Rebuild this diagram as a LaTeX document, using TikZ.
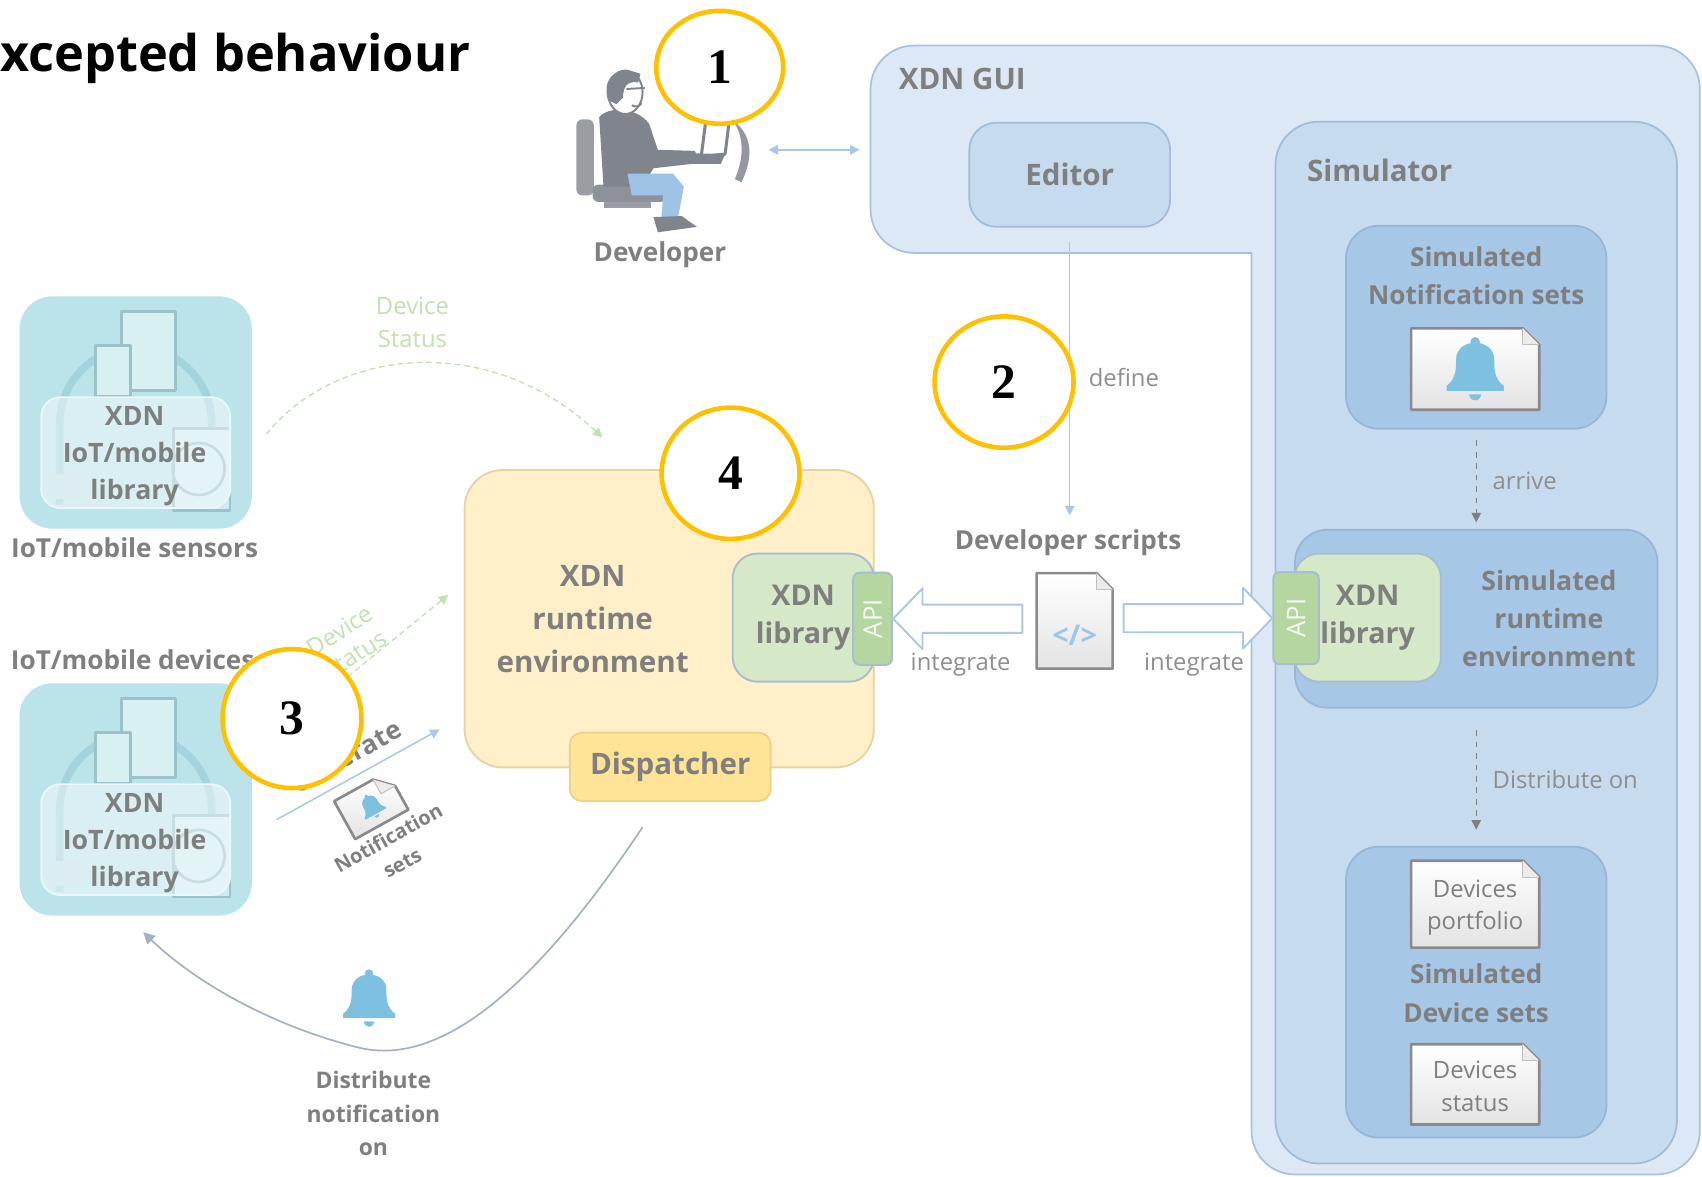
\documentclass[tikz,border=0pt]{standalone}
\usepackage{fontspec}
\setmainfont{Open Sans}
\newfontfamily\markfont{Liberation Serif}
\usetikzlibrary{arrows.meta,positioning,calc,shapes.geometric}
\definecolor{inkgray}{HTML}{7F7F7F}
\definecolor{softgray}{HTML}{8E8E8E}
\definecolor{guifill}{HTML}{DCE8F5}
\definecolor{guiedge}{HTML}{A8C1DC}
\definecolor{simfill}{HTML}{C7DBEF}
\definecolor{simedge}{HTML}{A0BBD7}
\definecolor{setfill}{HTML}{A7C7E7}
\definecolor{setedge}{HTML}{97B6D6}
\definecolor{libfill}{HTML}{D5E8C7}
\definecolor{libedge}{HTML}{A7BECF}
\definecolor{apifill}{HTML}{B6D6A1}
\definecolor{envfill}{HTML}{FFF0CA}
\definecolor{envedge}{HTML}{E6D4A2}
\definecolor{dispfill}{HTML}{FFE498}
\definecolor{dispedge}{HTML}{EBD38C}
\definecolor{tilefill}{HTML}{BAE3EA}
\definecolor{tileline}{HTML}{A3D3DC}
\definecolor{markyellow}{HTML}{FFC000}
\definecolor{linkblue}{HTML}{A9C8E8}
\definecolor{flowgray}{HTML}{A3B2C3}
\definecolor{statgreen}{HTML}{C4DFB2}
\definecolor{bellblue}{HTML}{7DC0E0}
\definecolor{codeblue}{HTML}{9CC5EA}
\definecolor{pageedge}{HTML}{8A8A8A}
\definecolor{persongray}{HTML}{80858D}
\definecolor{legblue}{HTML}{9DC3E6}

\begin{document}
\begin{tikzpicture}[x=0.02cm, y=-0.02cm, line join=round,
  every node/.style={align=center, text=inkgray, inner sep=1pt,
    font=\bfseries\fontsize{13.7}{20}\selectfont},
  box/.style={draw=simedge, fill=simfill, line width=0.9pt, rounded corners=0.5cm},
  setbox/.style={draw=setedge, fill=setfill, line width=0.9pt, rounded corners=0.6cm},
  libbox/.style={draw=libedge, fill=libfill, line width=1pt, rounded corners=0.45cm,
    minimum width=2.6cm, minimum height=2.36cm, font=\bfseries\fontsize{15}{20}\selectfont},
  apitab/.style={draw=libedge, fill=apifill, line width=1pt, rounded corners=0.12cm,
    minimum width=0.76cm, minimum height=1.7cm, inner sep=0pt, text=white!85!apifill,
    font=\fontsize{13.5}{15}\selectfont},
  tile/.style={fill=tilefill, rounded corners=0.6cm, minimum width=4.28cm, minimum height=4.28cm},
  numring/.style={ellipse, draw=markyellow, line width=2.4pt, fill=white, text=black,
    inner sep=0pt, font=\markfont\bfseries\fontsize{26}{26}\selectfont},
  big/.style={font=\bfseries\fontsize{15.5}{22.5}\selectfont},
  heavy/.style={font=\bfseries\fontsize{15.5}{18}\selectfont},
  note/.style={text=softgray, font=\fontsize{12.5}{17}\selectfont},
  statnote/.style={text=statgreen, font=\fontsize{12.5}{17}\selectfont},
  link/.style={draw=linkblue, line width=0.8pt, -{Triangle[length=5pt,width=5pt]}},
  flow/.style={draw=inkgray, dashed, line width=0.7pt, -{Triangle[length=5pt,width=5pt]}},
  statlink/.style={draw=statgreen, densely dashed, line width=0.7pt, -{Triangle[length=5pt,width=5pt]}},
  hollow/.style={draw=linkblue, fill=white, line width=1pt},
  pics/docsheet/.style 2 args={code={
    \filldraw[draw=pageedge, line width=1.4pt, top color=white, bottom color=black!11]
      (-#1/2,-#2/2) -- (#1/2-15,-#2/2) -- (#1/2,-#2/2+15) -- (#1/2,#2/2) -- (-#1/2,#2/2) -- cycle;
    \filldraw[draw=black!25, fill=black!8, line width=0.5pt]
      (#1/2-15,-#2/2) -- (#1/2-15,-#2/2+15) -- (#1/2,-#2/2+15);
  }},
  bell/.pic={
    \fill[bellblue] (-24,16) .. controls (-16,10) and (-16,2) .. (-16,-6)
      .. controls (-16,-25) and (16,-25) .. (16,-6)
      .. controls (16,2) and (16,10) .. (24,16) -- (24,20) -- (-24,20) -- cycle;
    \fill[bellblue] (0,-21) circle[radius=4];
    \fill[bellblue] (-5,23) arc[start angle=180, end angle=0, radius=5] -- cycle;
  },
  gadgets/.pic={
    \draw[tileline, line width=0.14cm] (-70,85) -- (-70,10)
      arc[start angle=180, end angle=360, radius=70] -- (70,85);
    \draw[tileline!80!gray, line width=1.6pt, fill=tilefill!55!white] (-13,-93) rectangle (37,-20);
    \draw[tileline!80!gray, line width=1.6pt, fill=tilefill!55!white] (-37,-62) rectangle (-5,-15);
    \draw[tileline!80!gray, line width=1.4pt, fill=tilefill!70!white] (35,15) rectangle (87,90);
    \draw[tileline!80!gray, line width=1.4pt] (58,52) circle[radius=24];
    \fill[tileline!70!white] (-80,57) rectangle (-50,80);
    \filldraw[draw=white!70!tilefill, fill=white, fill opacity=0.45, line width=1pt,
      rounded corners=0.35cm] (-87,-14) rectangle (87,88);
  }
]
\useasboundingbox (0,0) rectangle (1568,1084);

% heading
\node[anchor=west, text=black, font=\bfseries\fontsize{26.5}{30}\selectfont] (heading) at (-2,54) {xcepted behaviour};

% XDN GUI frame, one L-shaped outline
\draw[draw=guiedge, fill=guifill, line width=0.9pt]
  (1153,233) -- (842,233) arc[start angle=90, end angle=180, radius=40]
  -- (802,82) arc[start angle=180, end angle=270, radius=40]
  -- (1526,42) arc[start angle=270, end angle=360, radius=40]
  -- (1566,1042) arc[start angle=0, end angle=90, radius=40]
  -- (1193,1082) arc[start angle=90, end angle=180, radius=40]
  -- cycle;
\node[anchor=west, heavy] (guilbl) at (826,73) {XDN GUI};
\coordinate (guiport) at (792,138);

\node[box, heavy, minimum width=3.7cm, minimum height=1.92cm] (editor) at (985.5,161) {Editor};

\node[box, minimum width=7.4cm, minimum height=19.2cm, rounded corners=0.8cm] (simulator) at (1360,592) {};
\node[anchor=west, heavy] (simlbl) at (1202,157) {Simulator};

% simulated notification sets
\node[setbox, minimum width=4.8cm, minimum height=3.74cm] (notifset) at (1360,301.5) {};
\node (notiflbl) at (1360,254) {Simulated\\Notification sets};
\pic at (1359,340) {docsheet={118}{75}};
\pic[scale=1.1] at (1359,338) {bell};

% simulated runtime environment
\node[setbox, minimum width=6.68cm, minimum height=3.28cm] (simrt) at (1360,570) {};
\node[libbox, minimum width=2.7cm] (simlib) at (1260,569) {XDN\\library};
\node[apitab, minimum width=0.84cm] (simapi) at (1194,569.5) {\rotatebox{90}{API}};
\node[font=\bfseries\fontsize{14}{20}\selectfont] (simrtlbl) at (1427,570) {Simulated\\runtime\\environment};

% simulated device sets
\node[setbox, minimum width=4.8cm, minimum height=5.36cm] (devset) at (1360,914) {};
\pic at (1359,833) {docsheet={118}{80}};
\node[note, text=inkgray] (portfolio) at (1359,836) {Devices\\portfolio};
\node (devsetlbl) at (1360,915) {Simulated\\Device sets};
\pic at (1359,999) {docsheet={118}{74}};
\node[note, text=inkgray] (devstatus) at (1359,1001) {Devices\\status};

\draw[flow] ([yshift=-0.2cm]notifset.south) -- ([yshift=0.12cm]simrt.north);
\node[note, anchor=west] (arrivelbl) at (1373,443) {arrive};
\draw[flow] ([yshift=-0.4cm]simrt.south) -- ([yshift=0.3cm]devset.north);
\node[note, anchor=west] (distlbl) at (1373,718) {Distribute on};

% XDN runtime environment
\node[draw=envedge, fill=envfill, line width=1pt, rounded corners=0.7cm,
  minimum width=7.54cm, minimum height=5.48cm] (rtenv) at (616.5,570) {};
\node[big] (rtenvlbl) at (546,570) {XDN\\runtime\\environment};
\node[libbox] (xdnlib) at (740,569) {XDN\\library};
\node[apitab, minimum width=0.72cm] (api) at (804,570) {\rotatebox{90}{API}};
\node[draw=dispedge, fill=dispfill, line width=1pt, rounded corners=0.22cm, heavy,
  minimum width=3.7cm, minimum height=1.26cm] (dispatcher) at (617.5,706.5) {Dispatcher};

% developer scripts
\node (scriptlbl) at (984,500) {Developer scripts};
\pic at (990,572) {docsheet={70}{88}};
\node[text=codeblue, font=\bfseries\fontsize{15}{16}\selectfont] (scriptdoc) at (990,585) {</>};
\draw[link, shorten <=0.26cm, shorten >=0.22cm] (editor.south) -- (editor.south |- scriptlbl.north);
\node[note, anchor=west] (definelbl) at (1001,348) {define};

\draw[hollow] (api.east) -- ++(27,-28) -- ++(0,15) -- ++(92,0) -- ++(0,26) -- ++(-92,0) -- ++(0,15) -- cycle;
\draw[hollow] (simapi.west) -- ++(-27,-28) -- ++(0,15) -- ++(-110,0) -- ++(0,26) -- ++(110,0) -- ++(0,15) -- cycle;
\node[note] (intleft) at (885,612) {integrate};
\node[note] (intright) at (1100,612) {integrate};

% developer at the laptop
\fill[persongray!80, rounded corners=3pt] (531,110) rectangle (547,180);
\fill[persongray!90, rounded corners=3pt] (546,170) rectangle (614,186);
\fill[persongray!80] (556,186) rectangle (600,192);
\fill[persongray] (552,108) .. controls (560,98) and (586,98) .. (598,114) -- (606,138)
  -- (640,139) -- (646,150) -- (602,155) -- (592,172) -- (556,172) -- cycle;
\fill[legblue] (578,160) -- (620,160) -- (630,172) -- (624,204) -- (609,204) -- (611,180) -- (582,180) -- cycle;
\fill[persongray] (602,200) -- (628,199) -- (642,209) -- (606,214) -- cycle;
\filldraw[draw=persongray, fill=white, line width=1pt] (576,85) ellipse[x radius=16, y radius=20];
\fill[persongray] (560,92) .. controls (554,70) and (570,60) .. (590,68)
  -- (588,76) .. controls (578,74) and (574,80) .. (574,90) -- (568,96) -- cycle;
\draw[persongray, line width=1pt] (577,82) -- (594,81);
\draw[persongray, line width=1pt] (582,97) .. controls (586,99) and (589,98) .. (591,95);
\draw[persongray, line width=1.6pt, fill=white] (650,113) -- (672,110) -- (668,142) -- (646,144) -- cycle;
\fill[persongray] (628,141) -- (668,142) -- (664,151) -- (626,151) -- cycle;
\fill[persongray!85] (676,112) .. controls (696,126) and (692,150) .. (683,168) -- (677,165)
  .. controls (685,146) and (686,128) .. (676,112);
\coordinate (devport) at (708,138);
\node (devlbl) at (608,235) {Developer};
\draw[link, {Triangle[length=5pt,width=5pt]}-{Triangle[length=5pt,width=5pt]}] (devport) -- (guiport);

% IoT/mobile sensors and devices
\node[tile] (sensors) at (125,380) {};
\pic at (125,380) {gadgets};
\node[font=\bfseries\fontsize{14}{19.5}\selectfont] (sensorlib) at (124,420) {XDN\\IoT/mobile\\library};
\node (sensorlbl) at (124,505) {IoT/mobile sensors};

\node[tile] (devices) at (125,736.5) {};
\pic at (125,736.5) {gadgets};
\node[font=\bfseries\fontsize{14}{19.5}\selectfont] (devicelib) at (124,777) {XDN\\IoT/mobile\\library};
\node[anchor=west] (devicelbl) at (8,608) {IoT/mobile devices};

% status reports and generated notifications
\coordinate (statusin) at (555,403);
\draw[statlink] ($(sensors.east)+(13,20)$) .. controls (310,320) and (450,305) .. (statusin);
\node[statnote] (statlbl) at (380,297) {Device\\Status};
\coordinate (statfrom) at (300,640);
\coordinate (statto) at (413,548);
\draw[statlink] (statfrom) -- (statto);
\node[statnote, rotate=33, font=\fontsize{12.5}{15}\selectfont] (statlbl2) at (320,592) {Device\\Status};

\coordinate (genfrom) at (255,755);
\coordinate (gento) at (405,672);
\draw[link] (genfrom) -- (gento);
\node[rotate=29] (genlbl) at (319,697) {Generate};
\pic[rotate=29, scale=1] at (342,742) {docsheet={56}{40}};
\pic[rotate=29, scale=0.45] at (342,742) {bell};
\node[rotate=29, font=\bfseries\fontsize{10.5}{15}\selectfont] (notiflbl2) at (364,783) {Notification\\sets};

% notifications sent back to the devices
\coordinate (dispout) at (592,762);
\draw[draw=flowgray, line width=0.9pt, -{Triangle[length=6pt,width=6pt]}] (dispout)
  .. controls (500,900) and (410,985) .. (330,965)
  .. controls (250,945) and (180,905) .. ([shift={(7,15)}]devices.south);
\pic at (340,918) {bell};
\node[font=\bfseries\fontsize{12}{17.5}\selectfont] (distnote) at (344,1026) {Distribute\\notification\\on};

% step markers
\node[numring, minimum width=2.34cm, minimum height=2.08cm] (step1) at (663,62) {1};
\node[numring, minimum width=2.56cm, minimum height=2.42cm] (step2) at (925,352) {2};
\node[numring, minimum width=2.56cm, minimum height=2.56cm] (step3) at (269,662) {3};
\node[numring, minimum width=2.54cm, minimum height=2.42cm] (step4) at (673,436) {4};
\end{tikzpicture}
\end{document}
